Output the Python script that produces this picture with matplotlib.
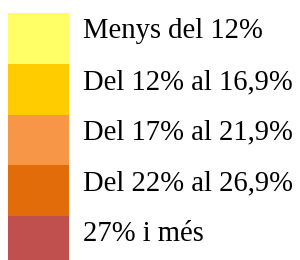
import matplotlib
matplotlib.use("Agg")
import matplotlib.pyplot as plt

labels = ["Menys del 12%", "Del 12% al 16,9%", "Del 17% al 21,9%", "Del 22% al 26,9%", "27% i més"]
colors = ["#FFFF66", "#FFCC00", "#F79646", "#E36C0A", "#C0504D"]

fig = plt.figure(figsize=(3.0, 2.6), dpi=100)
ax = fig.add_axes([0, 0, 1, 1])

# box height in pixels, top offset in pixels
h = 50.75
top = 13
pos = list(range(len(labels)))
ax.barh(pos, [61] * len(labels), left=8, height=1.0, color=colors, linewidth=0)
for i, lab in enumerate(labels):
    ax.text(83, i, lab, fontsize=20.6, family="Liberation Serif", va="baseline", ha="left", color="black")

ax.set_xlim(0, 300)
ax.set_ylim(-0.5 + (260 - top) / h, -0.5 - top / h)
ax.axis("off")
fig.savefig("out.png", dpi=100)
